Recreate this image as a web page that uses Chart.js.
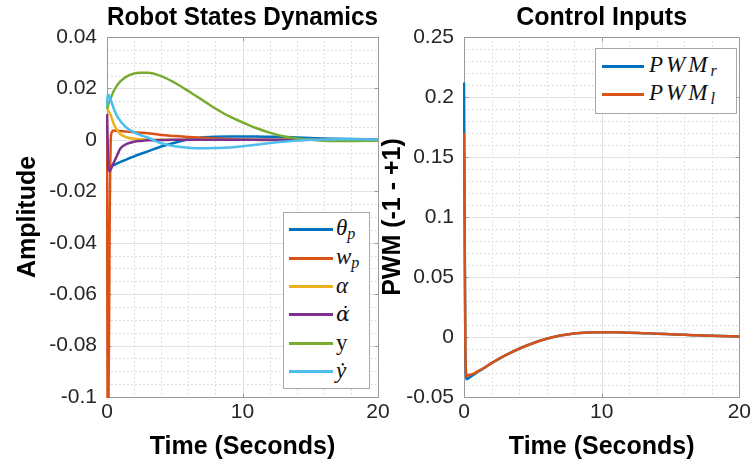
<!DOCTYPE html>
<html><head><meta charset="utf-8">
<script src="https://cdn.jsdelivr.net/npm/chart.js@4.4.1/dist/chart.umd.min.js"></script>
<style>
html,body{margin:0;padding:0;background:#fff;}
#wrap{position:relative;width:754px;height:470px;overflow:hidden;background:#fff;}
canvas{position:absolute;top:0;}
#c1{left:0;}
#c2{left:370px;}
.leg{position:absolute;background:#fff;border:1px solid #a8a8a8;font-family:'Liberation Serif','DejaVu Serif',serif;color:#111;box-sizing:border-box;}
.row{position:absolute;left:0;right:0;height:28px;display:flex;align-items:center;white-space:nowrap;}
.sw{display:inline-block;height:3px;flex:none;}
.lt{font-style:italic;}
.lt sub{font-size:0.7em;vertical-align:-0.25em;}
.dj{font-family:'DejaVu Serif',serif;font-size:0.9em;}
</style>
</head><body>
<div id="wrap">
<canvas id="c1" width="400" height="470"></canvas>
<canvas id="c2" width="384" height="470"></canvas>

<div class="leg" id="leg1" style="left:283px;top:212px;width:87px;height:177px;font-size:23px;">
  <div class="row" style="top:2px;"><span class="sw" style="margin-left:5px;width:44px;background:#0072BD;"></span><span class="lt" style="margin-left:3px;">θ<sub>p</sub></span></div>
  <div class="row" style="top:31px;"><span class="sw" style="margin-left:5px;width:44px;background:#D95319;"></span><span class="lt" style="margin-left:3px;">w<sub>p</sub></span></div>
  <div class="row" style="top:59px;"><span class="sw" style="margin-left:5px;width:44px;background:#EDB120;"></span><span class="lt" style="margin-left:3px;">α</span></div>
  <div class="row" style="top:87px;"><span class="sw" style="margin-left:5px;width:44px;background:#7E2F8E;"></span><span class="lt dj" style="margin-left:3px;">α̇</span></div>
  <div class="row" style="top:116px;"><span class="sw" style="margin-left:5px;width:44px;background:#77AC30;"></span><span style="margin-left:3px;">y</span></div>
  <div class="row" style="top:144px;"><span class="sw" style="margin-left:5px;width:44px;background:#4DBEEE;"></span><span class="lt" style="margin-left:3px;">ẏ</span></div>
</div>

<div class="leg" id="leg2" style="left:595px;top:48px;width:142px;height:66px;font-size:23px;">
  <div class="row" style="top:3px;"><span class="sw" style="margin-left:6px;width:42px;background:#0072BD;"></span><span class="lt" style="margin-left:5px;letter-spacing:3px;">PWM<sub>r</sub></span></div>
  <div class="row" style="top:31px;"><span class="sw" style="margin-left:6px;width:42px;background:#D95319;"></span><span class="lt" style="margin-left:5px;letter-spacing:3px;">PWM<sub>l</sub></span></div>
</div>
</div>

<script>
// ---- data ----
const TIME = [0, 0.05, 0.1, 0.2, 0.3, 0.5, 0.7, 1, 1.5, 2, 2.5, 3, 4, 5, 6, 7, 8, 9, 10, 11, 12, 13, 14, 15, 16, 17, 18, 20];

const thetaP = [0, -0.006, -0.0102, -0.0105, -0.0103, -0.0098, -0.0093, -0.0086, -0.0075, -0.0064, -0.0054, -0.0045, -0.0026, -0.0011, 0.0001, 0.0009, 0.0012, 0.0013, 0.0013, 0.0013, 0.0012, 0.0011, 0.0009, 0.0007, 0.0005, 0.0004, 0.0003, 0.0001];
const wP = [0.01, -0.11, -0.11, -0.03, 0.002, 0.0036, 0.0035, 0.0034, 0.0032, 0.003, 0.0028, 0.0026, 0.0019, 0.0015, 0.0011, 0.0008, 0.0005, 0.0003, 0.0001, 0, -0.0001, -0.0001, -0.0001, 0, 0, 0, 0, 0];
const alpha = [0.012, 0.0118, 0.0113, 0.0105, 0.0092, 0.0062, 0.0042, 0.0022, 0.0009, 0.0004, 0.0002, 0.0001, 0, 0, 0, 0, 0, 0, 0, 0, 0, 0, 0, 0, 0, 0, 0, 0];
const alphaDot = [0.01, -0.002, -0.011, -0.0122, -0.0112, -0.0088, -0.0066, -0.0033, -0.0015, -0.0007, -0.0004, -0.0002, -0.0001, 0, 0, 0, 0, 0, 0, 0, 0, 0, 0, 0, 0, 0, 0, 0];
const yPos = [0.012, 0.0128, 0.0137, 0.0152, 0.0166, 0.019, 0.0208, 0.0228, 0.0248, 0.0258, 0.0261, 0.0261, 0.0248, 0.0222, 0.019, 0.0156, 0.0122, 0.0092, 0.0068, 0.0046, 0.0028, 0.0014, 0.0005, 0, -0.0003, -0.0004, -0.0004, -0.0003];
const yDot = [0.013, 0.0172, 0.0175, 0.0165, 0.0152, 0.0122, 0.0097, 0.0072, 0.0045, 0.0029, 0.0018, 0.0009, -0.0013, -0.0025, -0.0031, -0.0033, -0.0032, -0.003, -0.0025, -0.0019, -0.0012, -0.0007, -0.0003, 0, 0.0001, 0.0002, 0.0002, 0.0001];

const pwmR = [0.212, 0.1, -0.012, -0.0352, -0.0345, -0.033, -0.0315, -0.029, -0.0255, -0.0218, -0.0184, -0.0153, -0.0098, -0.0052, -0.0015, 0.0012, 0.0029, 0.0037, 0.004, 0.0039, 0.0036, 0.0032, 0.0028, 0.0023, 0.0018, 0.0014, 0.001, 0.0004];
const pwmL = [0.17, 0.08, -0.01, -0.033, -0.032, -0.0312, -0.0305, -0.0286, -0.0254, -0.0218, -0.0184, -0.0153, -0.0098, -0.0052, -0.0015, 0.0012, 0.0029, 0.0037, 0.004, 0.0039, 0.0036, 0.0032, 0.0028, 0.0023, 0.0018, 0.0014, 0.001, 0.0004];

const X_TICKS = [0, 10, 20];
const LEFT_Y_TICKS = [-0.1, -0.08, -0.06, -0.04, -0.02, 0, 0.02, 0.04];
const RIGHT_Y_TICKS = [-0.05, 0, 0.05, 0.1, 0.15, 0.2, 0.25];

const LEFT_NAMES = ['θp', 'wp', 'α', 'α̇', 'y', 'ẏ'];
const RIGHT_NAMES = ['PWMr', 'PWMl'];
const COLORS = ['#0072BD', '#D95319', '#EDB120', '#7E2F8E', '#77AC30', '#4DBEEE'];

// ---- helpers ----
const FS = "'Liberation Sans', Arial, Helvetica, sans-serif";

function ds(label, vals, color, order) {
  return {
    label, data: TIME.map((t, i) => ({ x: t, y: vals[i] })),
    borderColor: color, backgroundColor: color, borderWidth: 2.5,
    pointRadius: 0, fill: false, cubicInterpolationMode: 'monotone',
    clip: 1, order
  };
}

const gridPlugin = {
  id: 'mgrid',
  beforeDatasetsDraw(chart, args, o) {
    const { ctx, chartArea: a } = chart;
    const xs = chart.scales.x, ys = chart.scales.y;
    const xT = xs.ticks.map(t => t.value), yT = ys.ticks.map(t => t.value);
    const near = (v, arr) => arr.some(t => Math.abs(t - v) < 1e-9);
    const vline = v => { const p = Math.round(xs.getPixelForValue(v)) + 0.5; ctx.beginPath(); ctx.moveTo(p, a.top); ctx.lineTo(p, a.bottom); ctx.stroke(); };
    const hline = v => { const p = Math.round(ys.getPixelForValue(v)) + 0.5; ctx.beginPath(); ctx.moveTo(a.left, p); ctx.lineTo(a.right, p); ctx.stroke(); };
    ctx.save();
    ctx.lineWidth = 1;
    ctx.strokeStyle = o.minorColor;
    ctx.setLineDash([1.5, 2.5]);
    for (let k = 1; ; k++) { const v = xs.min + k * o.xMinor; if (v >= xs.max - 1e-9) break; if (!near(v, xT)) vline(v); }
    for (let k = 1; ; k++) { const v = ys.min + k * o.yMinor; if (v >= ys.max - 1e-9) break; if (!near(v, yT)) hline(v); }
    ctx.setLineDash([]);
    ctx.strokeStyle = o.majorColor;
    xT.forEach(v => { if (v > xs.min && v < xs.max) vline(v); });
    yT.forEach(v => { if (v > ys.min && v < ys.max) hline(v); });
    ctx.strokeStyle = o.boxColor;
    const L = Math.round(a.left) + 0.5, R = Math.round(a.right) + 0.5, T = Math.round(a.top) + 0.5, B = Math.round(a.bottom) + 0.5;
    ctx.strokeRect(L, T, R - L, B - T);
    const tl = 4;
    ctx.beginPath();
    xT.forEach(v => { const p = Math.round(xs.getPixelForValue(v)) + 0.5; ctx.moveTo(p, B); ctx.lineTo(p, B - tl); ctx.moveTo(p, T); ctx.lineTo(p, T + tl); });
    yT.forEach(v => { const p = Math.round(ys.getPixelForValue(v)) + 0.5; ctx.moveTo(L, p); ctx.lineTo(L + tl, p); ctx.moveTo(R, p); ctx.lineTo(R - tl, p); });
    ctx.stroke();
    ctx.restore();
  }
};

function makeOptions(title, yTitle, yTicks, yMin, yMax, yWidth, yTitlePad, padRight, yMinor) {
  return {
    responsive: false, animation: false, events: [],
    layout: { padding: { left: 0, right: padRight, top: 0, bottom: 0 } },
    plugins: {
      legend: { display: false }, tooltip: { enabled: false },
      title: { display: true, text: title, fullSize: false, color: '#000',
        font: { family: FS, size: 25, weight: 'bold', lineHeight: 1.2 }, padding: { top: 3, bottom: 4 } },
      mgrid: { minorColor: '#d4d4d4', majorColor: '#e2e2e2', boxColor: '#9a9a9a', xMinor: 2, yMinor }
    },
    scales: {
      x: {
        type: 'linear', min: 0, max: 20,
        afterBuildTicks: s => { s.ticks = X_TICKS.map(v => ({ value: v })); },
        afterFit: s => { s.height = 73; },
        grid: { display: false, drawTicks: false }, border: { display: false },
        ticks: { color: '#262626', padding: 3, maxRotation: 0, font: { family: FS, size: 21 }, callback: v => String(v) },
        title: { display: true, text: 'Time (Seconds)', color: '#000', font: { family: FS, size: 25, weight: 'bold', lineHeight: 1.2 }, padding: { top: 0, bottom: 8 } }
      },
      y: {
        type: 'linear', min: yMin, max: yMax,
        afterBuildTicks: s => { s.ticks = yTicks.map(v => ({ value: v })); },
        afterFit: s => { s.width = yWidth; },
        grid: { display: false, drawTicks: false }, border: { display: false },
        ticks: { color: '#262626', padding: 10, font: { family: FS, size: 21 }, callback: v => String(v) },
        title: { display: true, text: yTitle, color: '#000', font: { family: FS, size: 25, weight: 'bold', lineHeight: 1.2 }, padding: { top: yTitlePad, bottom: 0 } }
      }
    }
  };
}

const leftSeries = [thetaP, wP, alpha, alphaDot, yPos, yDot];
new Chart(document.getElementById('c1'), {
  type: 'line',
  data: { datasets: leftSeries.map((v, i) => ds(LEFT_NAMES[i], v, COLORS[i], leftSeries.length - i)) },
  options: makeOptions('Robot States Dynamics', 'Amplitude', LEFT_Y_TICKS, -0.1, 0.04, 107, 13, 22, 0.005),
  plugins: [gridPlugin]
});

const rightSeries = [pwmR, pwmL];
new Chart(document.getElementById('c2'), {
  type: 'line',
  data: { datasets: rightSeries.map((v, i) => ds(RIGHT_NAMES[i], v, COLORS[i], rightSeries.length - i)) },
  options: makeOptions('Control Inputs', 'PWM (-1 - +1)', RIGHT_Y_TICKS, -0.05, 0.25, 94, 8, 14, 0.01),
  plugins: [gridPlugin]
});
</script>
</body></html>
